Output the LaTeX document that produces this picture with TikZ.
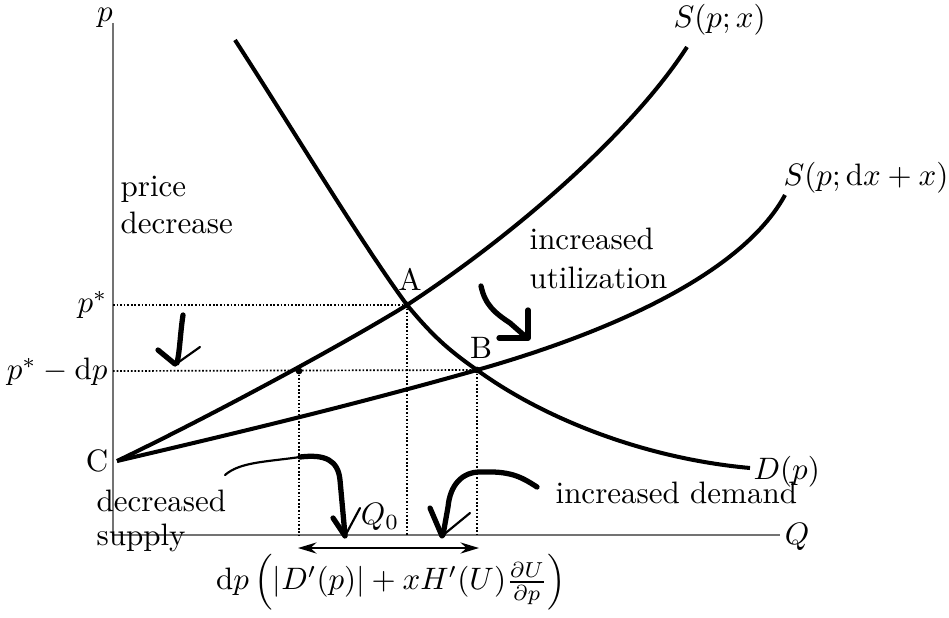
\documentclass[tikz,border=0pt]{standalone}
\usetikzlibrary{arrows.meta}
\begin{document}
\begin{tikzpicture}[x=0.3226pt,y=-0.3226pt,
  axis/.style={draw=black!55,line width=0.45pt},
  curve/.style={draw=black,line width=1.3pt},
  guide/.style={draw=black,line width=0.55pt,dash pattern=on 0.55pt off 0.6pt},
  dot/.style={circle,fill=black,inner sep=0pt,minimum size=2.2pt},
  lbl/.style={inner sep=0pt,font=\fontsize{10}{12}\selectfont},
  hand/.style={draw=black,line width=1.7pt,line cap=round,line join=round},
  handthin/.style={draw=black,line width=0.7pt,line cap=round},
  span/.style={draw=black,line width=0.5pt,{Stealth[length=6pt,width=3.6pt,inset=2pt]}-{Stealth[length=6pt,width=3.6pt,inset=2pt]}}]
\useasboundingbox (0,0) rectangle (949,617);

% key points
\coordinate (O) at (113,535);
\coordinate (ytop) at (113,23);
\coordinate (xend) at (780,535);
\coordinate (C) at (117,461);
\coordinate (A) at (407,305);
\coordinate (B) at (477,370);
\coordinate (E) at (299,371);
\coordinate (Ap) at (113,305);
\coordinate (Bp) at (113,371);
\coordinate (Eq) at (299,535);
\coordinate (Aq) at (407,535);
\coordinate (Bq) at (477,535);
\coordinate (S1end) at (687,47);
\coordinate (S2end) at (785,195);
\coordinate (Dstart) at (235,40);
\coordinate (Dend) at (750,468);

% axes
\draw[axis] (ytop) -- (O) -- (xend);
\node[lbl] (plab) at (105,18) {$p$};
\node[lbl] (qlab) at (797,537) {$Q$};

% guides
\draw[guide] (Ap) -- (A);
\draw[guide] (Bp) -- (B);
\draw[guide] (E) -- (Eq);
\draw[guide] (A) -- (Aq);
\draw[guide] (B) -- (Bq);

% curves
\draw[curve] (C) .. controls (217,413) and (347,342) .. (A)
                 .. controls (517,233) and (632,132) .. (S1end);
\draw[curve] (C) .. controls (237,433) and (357,404) .. (B)
                 .. controls (597,336) and (740,278) .. (S2end);
\draw[curve] (Dstart) .. controls (292,128) and (360,241) .. (A)
                 .. controls (432,335) and (447,349) .. (B)
                 .. controls (540,416) and (640,458) .. (Dend);

\node[dot] (dE) at (E) {};
\node[dot] (dA) at (A) {};
\node[dot] (dB) at (B) {};

% curve labels
\node[lbl,anchor=west] (s1) at (673,20) {$S(p;x)$};
\node[lbl,anchor=west] (s2) at (783,178) {$S(p;\mathrm{d}x+x)$};
\node[lbl,anchor=west] (dl) at (753,472) {$D(p)$};

% point labels
\node[lbl] (la) at (410,279) {A};
\node[lbl] (lb) at (481,348) {B};
\node[lbl] (lc) at (97,461) {C};
\node[lbl] (lq) at (380,517) {$Q_0$};
\node[lbl,anchor=east] (lps) at (108,305) {$p^*$};
\node[lbl,anchor=east] (lpd) at (108,372) {$p^*-\mathrm{d}p$};

% text labels
\node[lbl,anchor=west] (t1) at (120,189) {price};
\node[lbl,anchor=west] (t2) at (120,223) {decrease};
\node[lbl,anchor=west] (t3) at (529,239) {increased};
\node[lbl,anchor=west] (t4) at (529,278) {utilization};
\node[lbl,anchor=west] (t5) at (96,501) {decreased};
\node[lbl,anchor=west] (t6) at (96,538) {supply};
\node[lbl,anchor=west] (t7) at (555,493) {increased demand};

% span arrow and formula
\coordinate (sl) at (298,548);
\coordinate (sr) at (479,548);
\draw[span] (sl) -- (sr);
\node[lbl] (form) at (391,582) {$\mathrm{d}p\left(|D'(p)|+xH'(U)\frac{\partial U}{\partial p}\right)$};

% hand-drawn arrows
% price decrease
\draw[hand] (183,315) .. controls (180,335) and (180,350) .. (177,363);
\draw[hand] (158,350) -- (175,364);
\draw[handthin] (176,364) -- (200,347);
% increased utilization
\draw[hand] (481,286) .. controls (485,305) and (495,313) .. (510,323) -- (526,337);
\draw[hand] (528,310) -- (528,338) -- (499,338);
% decreased supply
\draw[handthin] (225,475) .. controls (240,462) and (265,462) .. (300,457);
\draw[hand] (300,457) .. controls (325,454) and (338,460) .. (340,480) -- (345,535);
\draw[hand] (333,518) -- (345,536);
\draw[handthin] (360,508) -- (345,536);
% increased demand
\draw[hand] (537,487) .. controls (520,476) and (510,471) .. (480,472) .. controls (462,472) and (450,485) .. (448,507) -- (443,535);
\draw[hand] (430,508) -- (442,536);
\draw[handthin] (470,513) -- (442,536);
\end{tikzpicture}
\end{document}
